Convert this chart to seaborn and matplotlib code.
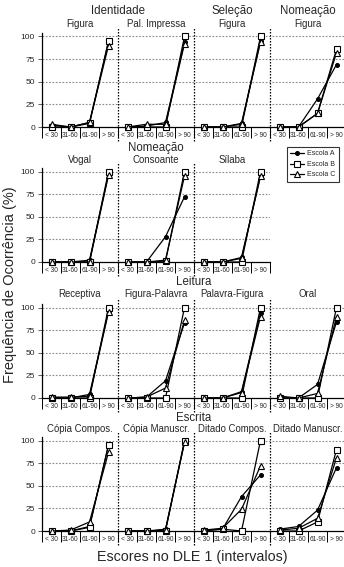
import numpy as np
import pandas as pd
import matplotlib
matplotlib.use("Agg")
import matplotlib.pyplot as plt
from matplotlib.lines import Line2D
import seaborn as sns

sns.set_style("white")
plt.rcParams['font.family'] = ['Liberation Sans', 'DejaVu Sans']

# ---------------- data ----------------
intervals = ["< 30", "31-60", "61-90", "> 90"]
schools = ["Escola A", "Escola B", "Escola C"]

row1_titles = ["Identidade", "Seleção", "Nomeação"]
row1_panels = ["Figura", "Pal. Impressa", "Figura", "Figura"]
row1_A = [[2, 0, 5, 94], [0, 1, 5, 94], [0, 0, 4, 95], [0, 0, 31, 69]]
row1_B = [[0, 0, 4, 95], [0, 0, 0, 100], [0, 0, 0, 100], [0, 0, 15, 86]]
row1_C = [[3, 0, 5, 90], [0, 3, 3, 92], [0, 0, 3, 94], [0, 0, 15, 82]]

row2_title = "Nomeação"
row2_panels = ["Vogal", "Consoante", "Sílaba"]
row2_A = [[0, 0, 2, 97], [0, 0, 28, 72], [0, 0, 5, 95]]
row2_B = [[0, 0, 0, 100], [0, 0, 1, 100], [0, 0, 0, 100]]
row2_C = [[0, 0, 0, 96], [0, 0, 2, 95], [0, 0, 4, 95]]

row3_title = "Leitura"
row3_panels = ["Receptiva", "Figura-Palavra", "Palavra-Figura", "Oral"]
row3_A = [[0, 0, 4, 96], [0, 1, 19, 83], [0, 0, 7, 94], [0, 0, 15, 84]]
row3_B = [[0, 0, 0, 100], [0, 0, 0, 100], [0, 0, 0, 100], [0, 0, 0, 100]]
row3_C = [[1, 1, 2, 95], [0, 1, 11, 86], [0, 0, 6, 90], [2, 0, 5, 90]]

row4_title = "Escrita"
row4_panels = ["Cópia Compos.", "Cópia Manuscr.", "Ditado Compos.", "Ditado Manuscr."]
row4_A = [[0, 0, 5, 95], [0, 0, 2, 98], [1, 2, 38, 62], [2, 5, 23, 70]]
row4_B = [[0, 0, 4, 95], [0, 0, 0, 100], [0, 2, 0, 100], [0, 0, 10, 90]]
row4_C = [[0, 1, 10, 87], [0, 0, 1, 98], [1, 3, 24, 72], [1, 3, 14, 81]]

yticks = [0, 25, 50, 75, 100]
ylabel = "Frequência de Ocorrência (%)"
xlabel = "Escores no DLE 1 (intervalos)"

# ---------------- styles ----------------
marker_map = {"Escola A": "o", "Escola B": "s", "Escola C": "^"}
mfc_map = {"Escola A": "black", "Escola B": "white", "Escola C": "white"}
ms_map = {"Escola A": 2.8, "Escola B": 3.8, "Escola C": 4.4}

W, H = 344, 567
fig = plt.figure(figsize=(W / 100, H / 100), dpi=100)

LEFT = 42
PW = 76.0  # px per panel
YTOP = 104
PXU = 0.905


def long_df(panels, A, B, C):
    recs = []
    for p, name in enumerate(panels):
        for s, vals in zip(schools, (A, B, C)):
            for k, v in enumerate(vals[p]):
                recs.append({"pos": p * 4 + k, "value": v, "school": s, "panel": p})
    return pd.DataFrame(recs)


def draw_row(y0px, panels, A, B, C):
    n = len(panels)
    ax = fig.add_axes([LEFT / W, 1 - y0px / H, n * PW / W, YTOP * PXU / H])
    df = long_df(panels, A, B, C)
    for s in schools:
        sub = df[df["school"] == s]
        sns.lineplot(data=sub, x="pos", y="value", units="panel", estimator=None,
                     ax=ax, color="black", lw=0.9, marker=marker_map[s],
                     markersize=ms_map[s], markerfacecolor=mfc_map[s],
                     markeredgecolor="black", markeredgewidth=0.8,
                     clip_on=False, legend=False, zorder=5)
    ax.set_xlim(-0.5, n * 4 - 0.5)
    ax.set_ylim(0, YTOP)
    ax.set_yticks(yticks)
    ax.set_yticklabels([str(t) for t in yticks], fontsize=6)
    ax.tick_params(axis="y", length=3, width=0.6, pad=2, left=True, color="#444")
    ax.set_xticks(np.arange(n * 4))
    ax.set_xticklabels(intervals * n, fontsize=4.7)
    ax.set_xticks(np.arange(n * 4 + 1) - 0.5, minor=True)
    ax.tick_params(axis="x", which="major", length=0, pad=3.5)
    ax.tick_params(axis="x", which="minor", length=8, width=0.7, color="black",
                   bottom=True, direction="out")
    for t in yticks[1:]:
        ax.axhline(t, color="#8a8a8a", lw=0.8, ls=(0, (1.5, 1.5)), zorder=1)
    for b in range(1, n):
        ax.axvline(b * 4 - 0.5, ymin=-0.15, ymax=1.05, color="black", lw=0.9,
                   ls=(0, (1.2, 1.2)), clip_on=False, zorder=2)
    for sp in ["top", "right"]:
        ax.spines[sp].set_visible(False)
    ax.spines["left"].set_linewidth(0.9)
    ax.spines["bottom"].set_linewidth(0.9)
    ax.spines["left"].set_color("black")
    ax.spines["bottom"].set_color("black")
    ax.set_xlabel("")
    ax.set_ylabel("")
    return ax


def panel_x(p):
    return (LEFT + PW * (p + 0.5)) / W


def put(xpx_frac, ypx, text, size, weight="normal"):
    fig.text(xpx_frac, 1 - ypx / H, text, fontsize=size, ha="center", va="center",
             fontweight=weight)


TS, SS = 8.3, 6.9

# Row 1
draw_row(127, row1_panels, row1_A, row1_B, row1_C)
put((LEFT + PW) / W, 11, row1_titles[0], TS)
put(panel_x(2), 11, row1_titles[1], TS)
put(panel_x(3), 11, row1_titles[2], TS)
for p, name in enumerate(row1_panels):
    put(panel_x(p), 24, name, SS)

# Row 2
draw_row(262, row2_panels, row2_A, row2_B, row2_C)
put((LEFT + PW * 1.5) / W, 148, row2_title, TS)
for p, name in enumerate(row2_panels):
    put(panel_x(p), 160, name, SS)

# Row 3
draw_row(398, row3_panels, row3_A, row3_B, row3_C)
put((LEFT + PW * 2) / W, 282, row3_title, TS)
for p, name in enumerate(row3_panels):
    put(panel_x(p), 294, name, SS)

# Row 4
draw_row(531, row4_panels, row4_A, row4_B, row4_C)
put((LEFT + PW * 2) / W, 418, row4_title, TS)
for p, name in enumerate(row4_panels):
    put(panel_x(p), 429, name, SS)

# axis labels
fig.text(10 / W, 1 - 285 / H, ylabel, rotation=90, fontsize=10.5,
         ha="center", va="center")
fig.text(192 / W, 1 - 557 / H, xlabel, fontsize=10.3, ha="center", va="center")

# legend
handles = [Line2D([], [], color="black", lw=0.9, marker=marker_map[s],
                  markersize=ms_map[s], markerfacecolor=mfc_map[s],
                  markeredgecolor="black", markeredgewidth=0.8) for s in schools]
leg = fig.legend(handles, schools, loc="upper left",
                 bbox_to_anchor=(287 / W, 1 - 147 / H), fontsize=5,
                 frameon=True, fancybox=False, handlelength=2.0,
                 handletextpad=0.4, borderpad=0.5, labelspacing=0.5,
                 borderaxespad=0)
leg.get_frame().set_edgecolor("black")
leg.get_frame().set_linewidth(0.8)

fig.savefig("out.png", dpi=100)
